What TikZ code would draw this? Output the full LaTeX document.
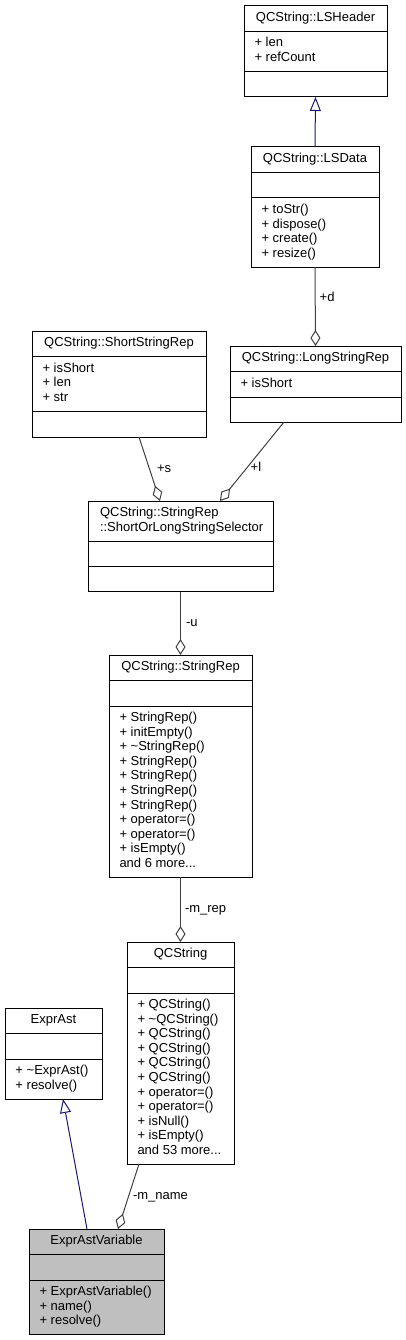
\documentclass[tikz,border=0pt]{standalone}
\usepackage{fontspec}
\setmainfont{Liberation Sans}
\usepackage{tikz}
\usetikzlibrary{arrows.meta}
\definecolor{edgeblue}{HTML}{191970}
\definecolor{edgegray}{HTML}{404040}
\definecolor{classgray}{HTML}{BFBFBF}

\begin{document}
\begin{tikzpicture}[x=1pt, y=-1pt, line width=1pt,
    font=\fontsize{13pt}{14.6pt}\selectfont,
    cls/.style={draw, inner sep=0pt, outer sep=0pt},
    title/.style={anchor=base, inner sep=0pt},
    member/.style={anchor=base west, inner sep=0pt},
    lbl/.style={anchor=west, inner sep=0pt, text height=6.5pt, text depth=0pt, xshift=4pt},
    inherit/.style={draw=edgeblue, -{Triangle[open, length=14pt, width=11pt]}},
    aggr/.style={draw=edgegray, -{Diamond[open, length=16pt, width=10pt]}}]
    \useasboundingbox (0,0) rectangle (406,1340);

    % QCString::LSHeader
    \node[cls, minimum width=143pt, minimum height=91pt] (lsheader) at (315.5,51.5) {};
    \draw (244,31.5) -- (387,31.5) (244,71.5) -- (387,71.5);
    \node[title] (lsheader-t) at (315.5,21.5) {QCString::LSHeader};
    \foreach \m [count=\i from 0] in {+ len, + refCount}
        \node[member] (lsheader-f\i) at (254,47+14.6*\i) {\m};

    % QCString::LSData
    \node[cls, minimum width=128pt, minimum height=120pt] (lsdata) at (315,207) {};
    \draw (251,172.5) -- (379,172.5) (251,198) -- (379,198);
    \node[title] (lsdata-t) at (315,162.5) {QCString::LSData};
    \foreach \m [count=\i from 0] in {+ toStr(), + dispose(), + create(), + resize()}
        \node[member] (lsdata-o\i) at (261,213.5+14.6*\i) {\m};

    % QCString::ShortStringRep
    \node[cls, minimum width=174pt, minimum height=106pt] (ssrep) at (119,384) {};
    \draw (32,356.5) -- (206,356.5) (32,411) -- (206,411);
    \node[title] (ssrep-t) at (119,346.5) {QCString::ShortStringRep};
    \foreach \m [count=\i from 0] in {+ isShort, + len, + str}
        \node[member] (ssrep-f\i) at (42,372+14.6*\i) {\m};

    % QCString::LongStringRep
    \node[cls, minimum width=171pt, minimum height=76pt] (lsrep) at (315.5,384) {};
    \draw (230,371.5) -- (401,371.5) (230,397) -- (401,397);
    \node[title] (lsrep-t) at (315.5,361.5) {QCString::LongStringRep};
    \node[member] (lsrep-f0) at (240,387) {+ isShort};

    % QCString::StringRep::ShortOrLongStringSelector
    \node[cls, minimum width=185pt, minimum height=90.5pt] (sel) at (180.5,546.25) {};
    \draw (88,541) -- (273,541) (88,566) -- (273,566);
    \node[member] (sel-t0) at (99.5,516.5) {QCString::StringRep};
    \node[member] (sel-t1) at (99.5,531.1) {::ShortOrLongStringSelector};

    % QCString::StringRep
    \node[cls, minimum width=143pt, minimum height=222pt] (srep) at (180.5,766) {};
    \draw (109,680.5) -- (252,680.5) (109,706) -- (252,706);
    \node[title] (srep-t) at (180.5,670.5) {QCString::StringRep};
    \foreach \m [count=\i from 0] in {+ StringRep(), + initEmpty(), + {\textasciitilde}StringRep(),
        + StringRep(), + StringRep(), + StringRep(), + StringRep(), + operator=(),
        + operator=(), + isEmpty(), and 6 more..{}.}
        \node[member] (srep-o\i) at (119,721.5+14.6*\i) {\m};

    % QCString
    \node[cls, minimum width=107pt, minimum height=222pt] (qcs) at (180.5,1053) {};
    \draw (127,967.5) -- (234,967.5) (127,993) -- (234,993);
    \node[title] (qcs-t) at (180.5,957.5) {QCString};
    \foreach \m [count=\i from 0] in {+ QCString(), + {\textasciitilde}QCString(), + QCString(),
        + QCString(), + QCString(), + QCString(), + operator=(), + operator=(),
        + isNull(), + isEmpty(), and 53 more..{}.}
        \node[member] (qcs-o\i) at (137,1008.5+14.6*\i) {\m};

    % ExprAst
    \node[cls, minimum width=97pt, minimum height=91pt] (ea) at (53.5,1053.5) {};
    \draw (5,1033.5) -- (102,1033.5) (5,1059) -- (102,1059);
    \node[title] (ea-t) at (53.5,1023.5) {ExprAst};
    \foreach \m [count=\i from 0] in {+ {\textasciitilde}ExprAst(), + resolve()}
        \node[member] (ea-o\i) at (15,1074.5+14.6*\i) {\m};

    % ExprAstVariable
    \node[cls, fill=classgray, minimum width=135pt, minimum height=105.5pt] (eav) at (96.5,1281.75) {};
    \draw (29,1254.5) -- (164,1254.5) (29,1280) -- (164,1280);
    \node[title] (eav-t) at (96.5,1244.5) {ExprAstVariable};
    \foreach \m [count=\i from 0] in {+ ExprAstVariable(), + name(), + resolve()}
        \node[member] (eav-o\i) at (39,1295.5+14.6*\i) {\m};

    % relations
    \draw[inherit] (lsdata.north) -- (lsheader.south);
    \draw[aggr] (lsdata.south) -- (lsrep.north) node[lbl, pos=0.4] {+d};
    \draw[aggr] ([xshift=20pt]ssrep.south) -- ([xshift=-20.5pt]sel.north) node[lbl, midway, xshift=3pt] {+s};
    \draw[aggr] ([xshift=-31.5pt]lsrep.south) -- ([xshift=39.5pt]sel.north) node[lbl, pos=0.59] {+l};
    \draw[aggr] (sel.south) -- (srep.north) node[lbl, midway, xshift=1pt] {-u};
    \draw[aggr] (srep.south) -- (qcs.north) node[lbl, midway] {-m\_rep};
    \draw[aggr] ([xshift=-41.5pt]qcs.south) -- ([xshift=21.5pt]eav.north) node[lbl, midway] {-m\_name};
    \draw[inherit] ([xshift=-9.5pt]eav.north) -- ([xshift=9.5pt]ea.south);
\end{tikzpicture}
\end{document}
